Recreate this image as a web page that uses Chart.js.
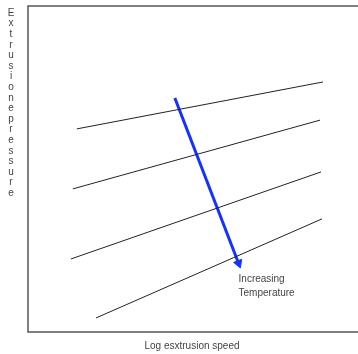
<!DOCTYPE html>
<html>
<head>
<meta charset="utf-8">
<script src="https://cdn.jsdelivr.net/npm/chart.js@4"></script>
<style>
    html, body { margin: 0; padding: 0; background: #fff; }
    #wrap { width: 358px; height: 354px; position: relative; }
</style>
</head>
<body>
<div id="wrap"><canvas id="extrusionChart"></canvas></div>
<script>
// one line per temperature, start and end points (log speed, pressure)
const speedStart = [1.48, 1.36, 1.30, 2.06];
const speedEnd = [8.94, 8.85, 8.88, 8.91];
const pressureStart = [6.23, 4.39, 2.24, 0.43];
const pressureEnd = [7.67, 6.50, 4.91, 3.47];

// the "increasing temperature" arrow
const arrowSpeed = [4.45, 6.38];
const arrowPressure = [7.18, 2.11];

const xTitle = 'Log esxtrusion speed';
const yTitle = 'Extrusione pressure';
const noteLines = ['Increasing', 'Temperature'];

document.addEventListener('DOMContentLoaded', function () {
    const datasets = speedStart.map(function (s, i) {
        return {
            data: [{ x: s, y: pressureStart[i] }, { x: speedEnd[i], y: pressureEnd[i] }],
            borderColor: '#222',
            borderWidth: 1,
            pointRadius: 0
        };
    });

    datasets.push({
        data: arrowSpeed.map(function (s, i) { return { x: s, y: arrowPressure[i] }; }),
        borderColor: 'rgb(20, 50, 255)',
        backgroundColor: 'rgb(20, 50, 255)',
        borderWidth: 3,
        pointStyle: 'triangle',
        pointRadius: [0, 5],
        pointRotation: [0, 159],
        pointBorderWidth: 1
    });

    // frame and text labels
    const decor = {
        id: 'decor',
        beforeDatasetsDraw: function (chart) {
            const ctx = chart.ctx;
            const a = chart.chartArea;
            ctx.save();
            ctx.strokeStyle = '#555';
            ctx.lineWidth = 1.5;
            ctx.beginPath();
            ctx.moveTo(a.right, a.top);
            ctx.lineTo(a.left, a.top);
            ctx.lineTo(a.left, a.bottom);
            ctx.lineTo(a.right, a.bottom);
            ctx.stroke();
            ctx.restore();
        },
        afterDraw: function (chart) {
            const ctx = chart.ctx;
            const a = chart.chartArea;
            const xs = chart.scales.x;
            const ys = chart.scales.y;
            ctx.save();
            ctx.fillStyle = '#444';
            ctx.font = '10px "Liberation Sans", Arial, sans-serif';
            ctx.textAlign = 'center';
            ctx.textBaseline = 'middle';
            ctx.fillText(xTitle, 192, a.bottom + 14);

            const letters = yTitle.replace(' ', '').split('');
            letters.forEach(function (ch, i) {
                ctx.fillText(ch, 11, 13 + i * 10.6);
            });

            ctx.textAlign = 'left';
            const nx = xs.getPixelForValue(arrowSpeed[1]) + 0;
            const ny = ys.getPixelForValue(arrowPressure[1]) + 16;
            noteLines.forEach(function (t, i) {
                ctx.fillText(t, nx, ny + i * 14);
            });
            ctx.restore();
        }
    };

    const ctx = document.getElementById('extrusionChart').getContext('2d');
    new Chart(ctx, {
        type: 'line',
        data: { datasets: datasets },
        options: {
            responsive: true,
            maintainAspectRatio: false,
            animation: false,
            layout: { autoPadding: false, padding: { left: 28, top: 6, right: 0, bottom: 22 } },
            plugins: {
                legend: { display: false },
                tooltip: { enabled: false }
            },
            scales: {
                x: { type: 'linear', min: 0, max: 10, display: false },
                y: { type: 'linear', min: 0, max: 10, display: false }
            }
        },
        plugins: [decor]
    });
});
</script>
</body>
</html>
